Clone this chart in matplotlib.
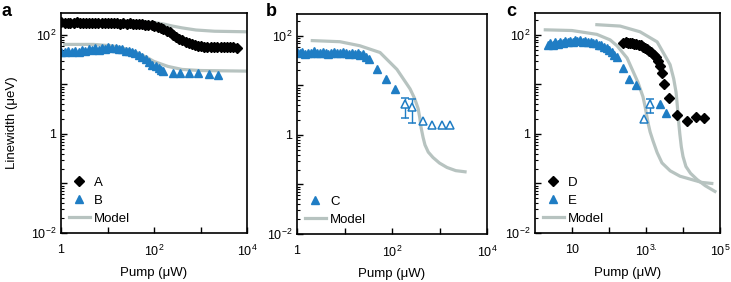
import matplotlib
matplotlib.use('Agg')
import matplotlib.pyplot as plt
from matplotlib.lines import Line2D
from matplotlib.ticker import LogLocator, FixedLocator, NullLocator, FixedFormatter

plt.rcParams['font.family'] = ['Liberation Sans', 'DejaVu Sans']
plt.rcParams['mathtext.fontset'] = 'custom'
plt.rcParams['mathtext.rm'] = 'Liberation Sans'

BLUE = '#1f7dc4'
GREY = '#b7c3c0'

# ---- panel a ----
a_x = [1, 1.2, 1.4, 1.6, 1.9, 2.2, 2.6, 3, 3.5, 4, 4.7, 5.5, 6.4, 7.5, 8.7, 10, 12, 14, 16, 19,
       22, 26, 30, 35, 41, 48, 56, 65, 76, 89, 100, 120, 140, 160, 190, 220, 260, 300, 350, 410,
       480, 560, 650, 760, 890, 1000, 1200, 1400, 1700, 2000, 2300, 2700, 3200, 3700, 4300, 5000, 6000]
a_y = [178, 172, 176, 170, 175, 178, 171, 174, 177, 172, 175, 170, 176, 173, 171, 175, 172, 170, 174, 169,
       171, 168, 170, 166, 167, 163, 164, 160, 158, 155, 152, 147, 140, 132, 122, 112, 100, 92, 84, 77,
       71, 67, 64, 62, 60, 59, 58, 57, 58, 57, 56, 57, 56, 57, 56, 57, 55]
a_model_x = [1, 30, 100, 160, 250, 400, 800, 2000, 10000]
a_model_y = [185, 183, 178, 165, 150, 138, 125, 118, 115]

b_x = [1, 1.2, 1.4, 1.7, 2, 2.4, 2.8, 3.3, 4, 4.7, 5.5, 6.5, 7.7, 9, 10.5, 12.5, 15, 17.5, 21, 25,
       29, 34, 40, 47, 56, 66, 78, 92, 108, 128, 140]
b_y = [46, 44, 47, 45, 48, 46, 50, 48, 52, 49, 53, 50, 55, 52, 57, 54, 55, 51, 52, 48,
       47, 44, 42, 39, 36, 32, 28, 25, 23, 21, 19.5]
b_sparse_x = [160, 250, 370, 560, 890, 1500, 2400]
b_sparse_y = [19, 17, 17, 17, 17, 16, 15.5]
b_model_x = [1.2, 5, 12, 20, 40, 70, 100, 200, 400, 1000, 10000]
b_model_y = [64, 64, 60, 55, 45, 35, 29, 23, 20, 19, 18.5]

# ---- panel b ----
c_x = [1, 1.15, 1.3, 1.5, 1.7, 2, 2.3, 2.6, 3, 3.5, 4, 4.6, 5.3, 6.1, 7, 8, 9.3, 10.7, 12.3, 14.2,
       16.3, 18.8, 21.6, 25, 28.7, 33]
c_y = [48, 44, 47, 43, 46, 45, 49, 44, 46, 47, 45, 43, 46, 48, 44, 45, 47, 44, 42, 45,
       43, 46, 41, 42, 38, 34]
c_fill_x = [48, 75, 115]
c_fill_y = [21, 13.5, 8.5]
c_err_x = [187, 263]
c_err_y = [4.3, 3.7]
c_err_lo = [2.2, 1.7]
c_err_hi = [5.6, 5.2]
c_open_x = [450, 690, 1130, 1660]
c_open_y = [1.9, 1.6, 1.6, 1.6]
c_model_x = [2.1, 8, 21, 56, 127, 240, 300, 355, 385, 410, 450, 494, 580, 730, 1000, 1440, 2200, 3450]
c_model_y = [80, 76, 63, 46, 21, 8.5, 5.4, 3.4, 2.2, 1.4, 0.9, 0.63, 0.45, 0.35, 0.27, 0.22, 0.19, 0.18]

# ---- panel c ----
d_x = [240, 280, 320, 370, 420, 480, 550, 630, 720, 820, 940, 1070, 1220, 1400, 1600, 1830, 2100, 2400, 2700]
d_y = [69, 70, 68, 69, 67, 66, 64, 63, 61, 58, 55, 52, 48, 44, 40, 35, 29, 23, 17]
d_sparse_x = [3090, 4170, 6900, 12900, 22400, 37000]
d_sparse_y = [10, 5.4, 2.45, 1.85, 2.2, 2.1]
e_x = [2.2, 2.6, 3, 3.5, 4.1, 4.8, 5.6, 6.5, 7.6, 8.9, 10.4, 12, 14, 16.5, 19.5, 23, 27, 32, 38, 45,
       53, 62, 73, 86, 100, 118, 140, 165]
e_y = [63, 68, 62, 70, 66, 72, 68, 74, 70, 76, 72, 80, 75, 78, 73, 76, 71, 72, 67, 68,
       63, 61, 57, 54, 50, 45, 40, 35]
e_fill_x = [240, 347, 537, 2400, 3470]
e_fill_y = [21, 13, 9.5, 4.1, 2.7]
e_open_x = [890]
e_open_y = [2.0]
e_err_x = [1290]
e_err_y = [4.1]
e_err_lo = [2.7]
e_err_hi = [5.1]
e_model_x = [1.9, 10, 47, 107, 165, 308, 605, 830, 950, 1050, 1150, 1290, 1550, 2000, 2700, 4500, 8300, 32000, 60000]
e_model_y = [126, 122, 102, 79, 60, 34, 11, 5.6, 3.5, 2.3, 1.6, 1.1, 0.72, 0.42, 0.26, 0.18, 0.14, 0.105, 0.1]
dm_x = [47, 200, 690, 2000, 4470, 5600, 6500, 7000, 7500, 8200, 9000, 10000, 12000, 16000, 24000, 40000, 73000]
dm_y = [160, 150, 115, 72, 25, 13, 6.9, 3.8, 2.0, 1.0, 0.55, 0.35, 0.22, 0.16, 0.12, 0.09, 0.069]

W, H = 731, 282
fig = plt.figure(figsize=(W / 100, H / 100), dpi=100)


def make_ax(x0, x1, y0, y1):
    return fig.add_axes([x0 / W, 1 - y1 / H, (x1 - x0) / W, (y1 - y0) / H])


def style(ax, xmax, xlabels):
    ax.set_xscale('log')
    ax.set_yscale('log')
    ax.set_xlim(1, xmax)
    ax.set_ylim(1e-2, 10 ** 2.44)
    ax.xaxis.set_major_locator(FixedLocator(list(xlabels.keys())))
    ax.xaxis.set_major_formatter(FixedFormatter(list(xlabels.values())))
    ax.xaxis.set_minor_locator(NullLocator())
    ax.yaxis.set_major_locator(FixedLocator([1e-2, 1e-1, 1, 10, 100]))
    ax.yaxis.set_major_formatter(FixedFormatter(['$10^{-2}$', '', '1', '', '$10^{2}$']))
    ax.yaxis.set_minor_locator(LogLocator(base=10, subs=range(2, 10), numticks=20))
    ax.tick_params(which='both', direction='in', labelsize=9, top=False, right=False)
    ax.tick_params(which='major', length=4, width=1)
    ax.tick_params(which='minor', length=2, width=0.8)
    ax.tick_params(axis='x', pad=8)
    for s in ax.spines.values():
        s.set_linewidth(1.2)
    ax.set_xlabel('Pump (μW)', fontsize=9.5)
    # put the x label at the same figure height in every panel
    ax.xaxis.set_label_coords(0.5, -(273 - 233) / 220, transform=ax.transAxes)
    ax.xaxis.label.set_va('center')


def legend(ax, items):
    handles = []
    for lab, kind in items:
        if kind == 'D':
            handles.append(Line2D([], [], ls='none', marker='D', color='black', ms=5, label=lab))
        elif kind == '^':
            handles.append(Line2D([], [], ls='none', marker='^', color=BLUE, ms=6, label=lab))
        else:
            handles.append(Line2D([], [], color=GREY, lw=2.3, label=lab))
    ax.legend(handles=handles, loc='lower left', frameon=False, fontsize=9.5,
              handlelength=1.6, handletextpad=0.3, labelspacing=0.45,
              borderaxespad=0.3, borderpad=0.3)


# panel a
ax = make_ax(61, 247, 13, 233)
ax.plot(a_model_x, a_model_y, color=GREY, lw=2.3, zorder=1)
ax.plot(b_model_x, b_model_y, color=GREY, lw=2.3, zorder=1)
ax.plot(a_x, a_y, ls='none', marker='D', color='black', ms=5, zorder=3)
ax.plot(b_x, b_y, ls='none', marker='^', color=BLUE, ms=6, zorder=2)
ax.plot(b_sparse_x, b_sparse_y, ls='none', marker='^', color=BLUE, ms=6, zorder=2)
style(ax, 1e4, {1: '1', 10: '', 100: '$10^{2}$', 1000: '', 1e4: '$10^{4}$'})
ax.set_ylabel('Linewidth (μeV)', fontsize=9.5, labelpad=9)
legend(ax, [('A', 'D'), ('B', '^'), ('Model', '-')])
fig.text(2 / W, 1 - 3 / H, 'a', fontsize=13, fontweight='bold', va='top')

# panel b
ax = make_ax(297, 487, 14, 234)
ax.plot(c_model_x, c_model_y, color=GREY, lw=2.3, zorder=1)
ax.plot(c_x, c_y, ls='none', marker='^', color=BLUE, ms=6, zorder=2)
ax.plot(c_fill_x, c_fill_y, ls='none', marker='^', color=BLUE, ms=6, zorder=2)
ax.errorbar(c_err_x, c_err_y,
            yerr=[[v - l for v, l in zip(c_err_y, c_err_lo)], [h - v for v, h in zip(c_err_y, c_err_hi)]],
            ls='none', marker='^', mfc='white', mec=BLUE, ecolor=BLUE, ms=6, mew=1.1,
            elinewidth=1, capsize=3, zorder=2)
ax.plot(c_open_x, c_open_y, ls='none', marker='^', mfc='white', mec=BLUE, ms=6, mew=1.1, zorder=2)
style(ax, 1e4, {1: '1', 10: '', 100: '$10^{2}$', 1000: '', 1e4: '$10^{4}$'})
legend(ax, [('C', '^'), ('Model', '-')])
fig.text(266 / W, 1 - 3 / H, 'b', fontsize=13, fontweight='bold', va='top')

# panel c
ax = make_ax(535, 720, 13, 233)
ax.plot(e_model_x, e_model_y, color=GREY, lw=2.3, zorder=1)
ax.plot(dm_x, dm_y, color=GREY, lw=2.3, zorder=1)
ax.plot(e_x, e_y, ls='none', marker='^', color=BLUE, ms=6, zorder=2)
ax.plot(e_fill_x, e_fill_y, ls='none', marker='^', color=BLUE, ms=6, zorder=2)
ax.plot(e_open_x, e_open_y, ls='none', marker='^', mfc='white', mec=BLUE, ms=6, mew=1.1, zorder=2)
ax.errorbar(e_err_x, e_err_y,
            yerr=[[v - l for v, l in zip(e_err_y, e_err_lo)], [h - v for v, h in zip(e_err_y, e_err_hi)]],
            ls='none', marker='^', mfc='white', mec=BLUE, ecolor=BLUE, ms=6, mew=1.1,
            elinewidth=1, capsize=3, zorder=2)
ax.plot(d_x, d_y, ls='none', marker='D', color='black', ms=5, zorder=3)
ax.plot(d_sparse_x, d_sparse_y, ls='none', marker='D', color='black', ms=5, zorder=3)
style(ax, 1e5, {10: '10', 100: '', 1000: '$10^{3.}$', 1e4: '', 1e5: '$10^{5}$'})
legend(ax, [('D', 'D'), ('E', '^'), ('Model', '-')])
fig.text(506 / W, 1 - 3 / H, 'c', fontsize=13, fontweight='bold', va='top')

fig.savefig('out.png', dpi=100)
